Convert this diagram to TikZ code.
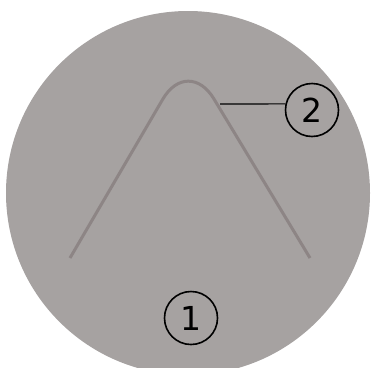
\documentclass[tikz,border=0pt]{standalone}
\usepackage{fontspec}
\setmainfont{DejaVu Sans}
\definecolor{disc}{HTML}{A6A2A1}
\definecolor{wire}{HTML}{8D8585}
\tikzset{
  num/.style={circle, draw=black, line width=1.6pt, fill=none, minimum size=53pt, inner sep=0pt, font=\fontsize{33}{33}\selectfont},
  leader/.style={draw=black, line width=1.2pt}
}
\begin{document}
\begin{tikzpicture}[x=1pt,y=-1pt]
\useasboundingbox (0,0) rectangle (371,367);
\clip (0,0) rectangle (371,367);
\fill[disc] (188,193) circle (182);
\draw[wire, line width=3pt, rounded corners=50pt] (70,258) -- (188,56) -- (310,258);
\coordinate (p) at (220,104);
\node[num] (n2) at (312,110) {2};
\node[num] (n1) at (191,318) {1};
\draw[leader] (p) -- (n2.167);
\end{tikzpicture}
\end{document}
